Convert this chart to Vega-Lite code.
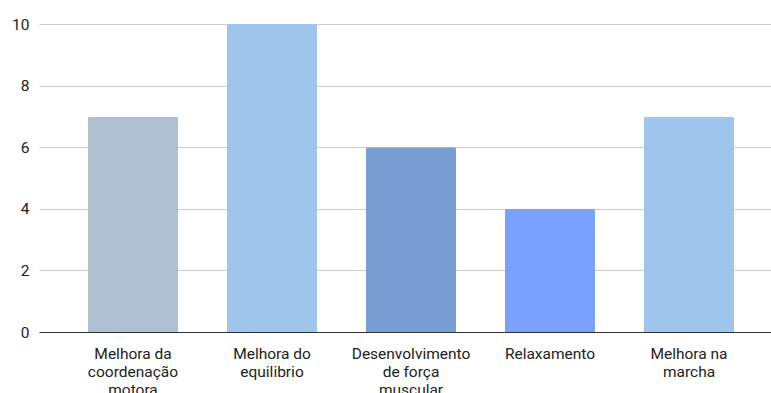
{
  "$schema": "https://vega.github.io/schema/vega-lite/v6.json",
  "width": 732,
  "height": 308,
  "autosize": {"type": "none"},
  "padding": {"left": 39, "top": 24, "right": 0, "bottom": 61},
  "background": "white",
  "config": {"view": {"stroke": null}, "font": "Roboto"},
  "data": {
    "values": [
      {"categoria": "Melhora da coordenação motora", "valor": 7},
      {"categoria": "Melhora do equilibrio", "valor": 10},
      {"categoria": "Desenvolvimento de força muscular", "valor": 6},
      {"categoria": "Relaxamento", "valor": 4},
      {"categoria": "Melhora na marcha", "valor": 7}
    ]
  },
  "mark": {"type": "bar", "cornerRadiusTopLeft": 2, "cornerRadiusTopRight": 2},
  "encoding": {
    "x": {
      "field": "categoria",
      "type": "nominal",
      "sort": null,
      "scale": {"range": [0, 744], "paddingInner": 0.3525, "paddingOuter": 0.3525},
      "axis": {
        "title": null,
        "labelAngle": 0,
        "ticks": false,
        "domainColor": "#333333",
        "domainWidth": 1,
        "labelColor": "#222222",
        "labelFont": "Roboto",
        "labelFontSize": 15.5,
        "labelPadding": 14,
        "labelBaseline": "top",
        "labelLineHeight": 18,
        "labelLimit": 0,
        "labelExpr": "datum.label == 'Melhora da coordenação motora' ? ['Melhora da','coordenação','motora'] : datum.label == 'Melhora do equilibrio' ? ['Melhora do','equilibrio'] : datum.label == 'Desenvolvimento de força muscular' ? ['Desenvolvimento','de força','muscular'] : datum.label == 'Melhora na marcha' ? ['Melhora na','marcha'] : datum.label"
      }
    },
    "y": {
      "field": "valor",
      "type": "quantitative",
      "scale": {"domain": [0, 10], "nice": false},
      "axis": {
        "title": null,
        "values": [0, 2, 4, 6, 8, 10],
        "domain": false,
        "ticks": false,
        "gridColor": "#cccccc",
        "labelColor": "#222222",
        "labelFont": "Roboto",
        "labelFontSize": 15.5,
        "labelPadding": 10
      }
    },
    "color": {
      "field": "categoria",
      "type": "nominal",
      "legend": null,
      "scale": {
        "domain": ["Melhora da coordenação motora", "Melhora do equilibrio", "Desenvolvimento de força muscular", "Relaxamento", "Melhora na marcha"],
        "range": ["#aebfcf", "#9fc5ec", "#789ed3", "#7aa1fd", "#9fc5ec"]
      }
    }
  }
}
